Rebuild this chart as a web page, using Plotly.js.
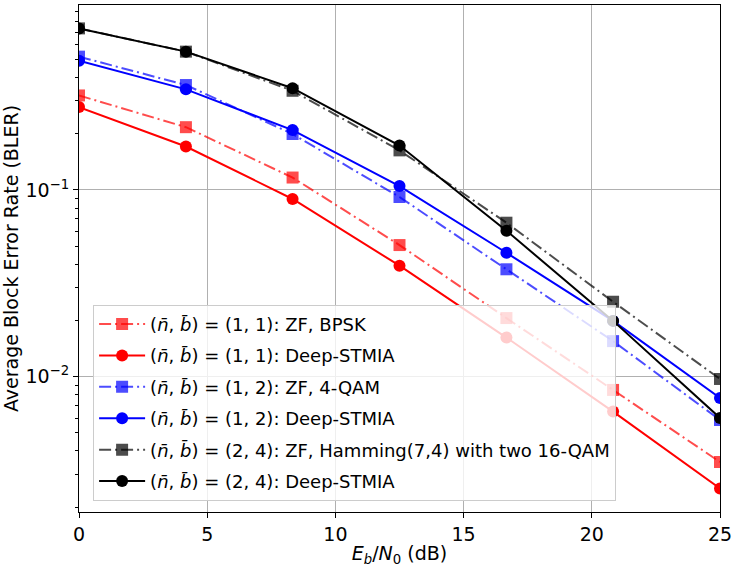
<!DOCTYPE html>
<html>
<head>
<meta charset="utf-8">
<script src="https://cdn.plot.ly/plotly-3.0.1.min.js"></script>
<style>
  html, body { margin: 0; padding: 0; background: #ffffff; }
  #chart { width: 736px; height: 567px; }
</style>
</head>
<body>
<div id="chart"></div>
<script>
// Eb/N0 grid (dB)
const ebn0 = [0, 4.17, 8.33, 12.5, 16.67, 20.83, 25];

// Block error rates
const zfBpsk      = [0.321, 0.217, 0.1166, 0.0507, 0.0206, 0.00849, 0.00349];
const deep11      = [0.278, 0.171, 0.0895, 0.0393, 0.0162, 0.0065, 0.00252];
const zfQam4      = [0.518, 0.365, 0.1995, 0.0917, 0.0376, 0.0155, 0.00586];
const deep12      = [0.493, 0.346, 0.2095, 0.105, 0.0461, 0.0199, 0.00769];
const zfHamming   = [0.734, 0.551, 0.340, 0.163, 0.0668, 0.0252, 0.00972];
const deep24      = [0.734, 0.551, 0.351, 0.173, 0.0605, 0.0199, 0.00601];

const nb = '(<i>n\u0304</i>, <i>b\u0304</i>)';
const seriesNames = [
  nb + ' = (1, 1): ZF, BPSK',
  nb + ' = (1, 1): Deep-STMIA',
  nb + ' = (1, 2): ZF, 4-QAM',
  nb + ' = (1, 2): Deep-STMIA',
  nb + ' = (2, 4): ZF, Hamming(7,4) with two 16-QAM',
  nb + ' = (2, 4): Deep-STMIA'
];

const yTickVals = [0.01, 0.1];
const yTickText = ['10<sup>\u22122</sup>', '10<sup>\u22121</sup>'];
const xTickVals = [0, 5, 10, 15, 20, 25];

const dashDot = '12px,4px,2px,4px';

function series(y, name, color, symbol, dash, idx) {
  return {
    x: ebn0, y: y, name: name, type: 'scatter', mode: 'lines+markers',
    legendgroup: 'g' + idx,
    line: { color: color, width: 2, dash: dash },
    marker: { color: color, symbol: symbol, size: 12 }
  };
}

const traces = [
  series(zfBpsk,    seriesNames[0], 'rgba(255,0,0,0.7)', 'square', dashDot, 0),
  series(deep11,    seriesNames[1], 'rgb(255,0,0)',      'circle', 'solid', 1),
  series(zfQam4,    seriesNames[2], 'rgba(0,0,255,0.7)', 'square', dashDot, 2),
  series(deep12,    seriesNames[3], 'rgb(0,0,255)',      'circle', 'solid', 3),
  series(zfHamming, seriesNames[4], 'rgba(0,0,0,0.7)',   'square', dashDot, 4),
  series(deep24,    seriesNames[5], 'rgb(0,0,0)',        'circle', 'solid', 5)
];

// minor ticks at 2..9 x each decade
const minorVals = [];
[0.001, 0.01, 0.1].forEach(function (d) {
  for (let k = 2; k <= 9; k++) minorVals.push(k * d);
});

const layout = {
  width: 736, height: 567,
  margin: { l: 79, r: 16, t: 5, b: 55 },
  paper_bgcolor: '#ffffff', plot_bgcolor: '#ffffff',
  font: { family: 'DejaVu Sans', size: 18, color: '#000000' },
  showlegend: true,
  legend: {
    x: 0.022, y: 0.022, xanchor: 'left', yanchor: 'bottom',
    bgcolor: 'rgba(255,255,255,0.8)', bordercolor: '#cccccc', borderwidth: 1,
    font: { family: 'DejaVu Sans', size: 18 },
    traceorder: 'grouped', tracegroupgap: 5, itemwidth: 46
  },
  xaxis: {
    range: [0, 25], tickvals: xTickVals,
    ticks: 'outside', ticklen: 5, tickwidth: 1, tickcolor: '#000000',
    showline: true, mirror: true, linecolor: '#000000', linewidth: 1,
    showgrid: true, gridcolor: '#b0b0b0', gridwidth: 1, zeroline: false,
    tickfont: { size: 19 },
    title: { text: '<i>E</i><sub><i>b</i></sub>/<i>N</i><sub>0</sub> (dB)', font: { size: 19 }, standoff: 7 }
  },
  yaxis: {
    type: 'log', range: [-2.725, -0.009],
    tickvals: yTickVals, ticktext: yTickText,
    ticks: 'outside', ticklen: 5, tickwidth: 1, tickcolor: '#000000',
    minor: { tickvals: minorVals, ticks: 'outside', ticklen: 3, tickcolor: '#000000', showgrid: false },
    showline: true, mirror: true, linecolor: '#000000', linewidth: 1,
    showgrid: true, gridcolor: '#b0b0b0', gridwidth: 1, zeroline: false,
    tickfont: { size: 19 },
    title: { text: 'Average Block Error Rate (BLER)', font: { size: 19 }, standoff: 8 }
  }
};

Plotly.newPlot('chart', traces, layout, { displayModeBar: false, staticPlot: true });
</script>
</body>
</html>
